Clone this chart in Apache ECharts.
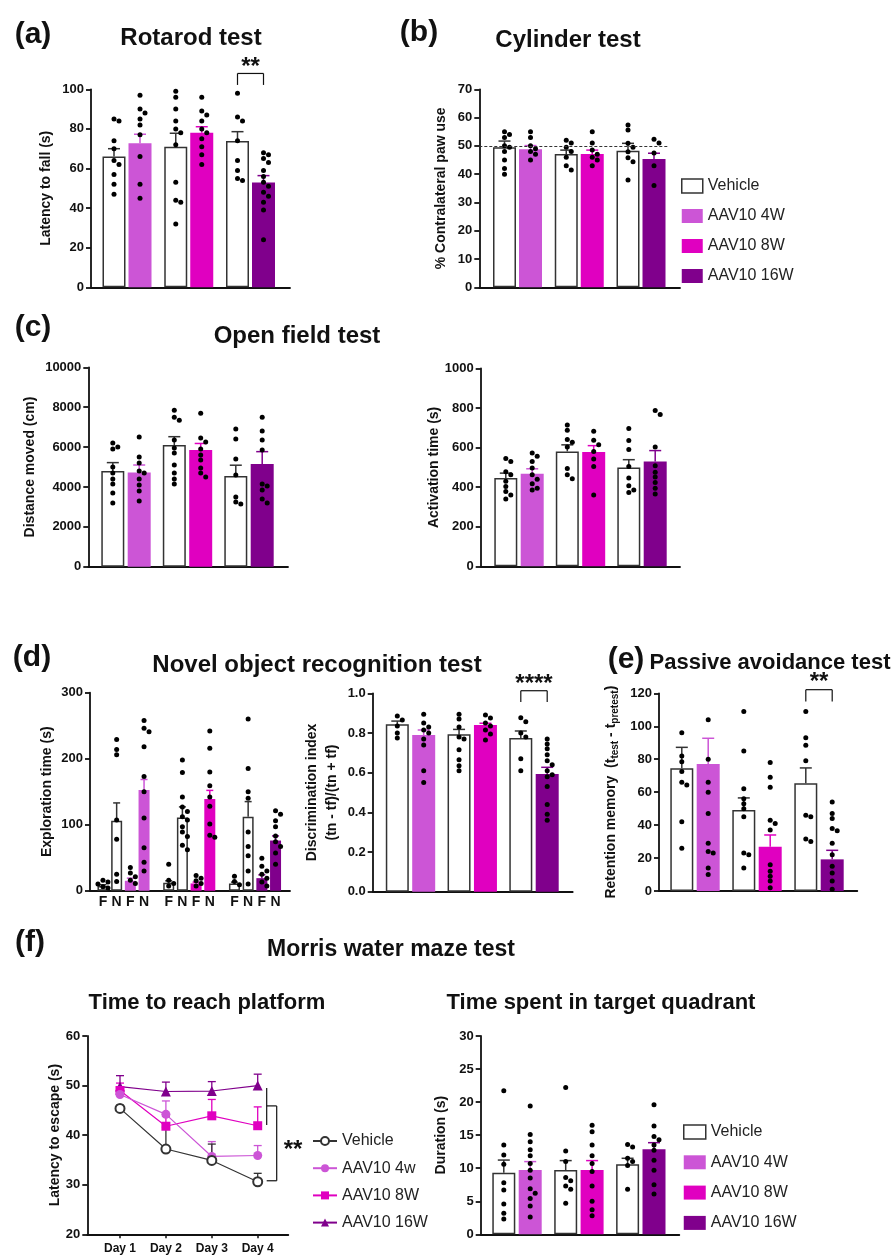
<!DOCTYPE html>
<html><head><meta charset="utf-8">
<script src="https://cdn.jsdelivr.net/npm/echarts/dist/echarts.min.js"></script>
<style>html,body{margin:0;padding:0;background:#fff}#c{width:892px;height:1259px}</style>
</head><body><div id="c"></div>
<script>
// ================= DATA =================
const barGroupNames = ['Vehicle','AAV10 4W','Vehicle','AAV10 8W','Vehicle','AAV10 16W'];
const legendNames = ['Vehicle','AAV10 4W','AAV10 8W','AAV10 16W'];

// (a) Rotarod test - latency to fall (s)
const rotarodMean = [66, 72.7, 71, 78.1, 73.9, 52.9];
const rotarodSem  = [4, 4.6, 6.8, 3, 4.7, 3.5];
const rotarodDots = [
  [85, 84, 74, 70, 64, 62, 57, 52, 47],
  [97, 90, 88, 85, 82, 77, 66, 52, 45],
  [99, 96, 90, 84, 80, 78, 72, 53, 44, 43, 32],
  [96, 89, 87, 84, 80, 78, 75, 71, 67, 62],
  [98, 86, 84, 74, 64, 59, 55, 54],
  [68, 67, 65, 63, 59, 56, 53, 51, 48, 46, 43, 39, 24]
];

// (b) Cylinder test - % contralateral paw use
const cylinderMean = [49.5, 48.8, 47.1, 47.1, 48.3, 45.4];
const cylinderSem  = [2.2, 1.3, 1.4, 1.4, 2.6, 2.0];
const cylinderDots = [
  [55, 54, 53, 50, 49.5, 48, 45, 42, 40],
  [55, 53, 50, 49, 48, 47, 45],
  [52, 51, 49.5, 48, 46, 43, 41.5],
  [55, 51, 48.5, 47, 46, 45, 43],
  [57.4, 55.6, 50.9, 49.5, 47.9, 45.8, 44.4, 37.9],
  [52.3, 51, 47.5, 43, 36]
];
const cylinderRef = 50;

// (c) Open field test - distance moved (cm)
const distanceMean = [4800, 4730, 6100, 5850, 4550, 5150];
const distanceSem  = [420, 370, 420, 330, 540, 620];
const distanceDots = [
  [6200, 6000, 5900, 5000, 4700, 4400, 4150, 3700, 3200],
  [6500, 5500, 5200, 4800, 4700, 4400, 4100, 3800, 3300],
  [7850, 7500, 7350, 6350, 5950, 5700, 5100, 4700, 4400, 4150],
  [7700, 6450, 6250, 5900, 5600, 5350, 4950, 4700, 4500],
  [6900, 6400, 5400, 4600, 3500, 3250, 3150],
  [7500, 6800, 6350, 5850, 4150, 4050, 3850, 3400, 3200]
];
// (c) Open field test - activation time (s)
const activationMean = [446, 468, 581, 578, 500, 530];
const activationSem  = [25, 25, 33, 32, 39, 55];
const activationDots = [
  [545, 530, 478, 463, 430, 403, 378, 360, 340],
  [573, 556, 530, 497, 463, 440, 417, 395, 386],
  [714, 688, 641, 627, 603, 495, 463, 442],
  [683, 637, 615, 581, 542, 505, 361],
  [697, 636, 590, 505, 446, 407, 386, 373],
  [788, 768, 603, 508, 476, 451, 424, 395, 366]
];

// (d) Novel object recognition - exploration time (s), F = familiar, N = novel
const exploreGroupNames = ['Vehicle','Vehicle','AAV10 4W','AAV10 4W','Vehicle','Vehicle','AAV10 8W','AAV10 8W','Vehicle','Vehicle','AAV10 16W','AAV10 16W'];
const exploreLabels = ['F','N','F','N','F','N','F','N','F','N','F','N'];
const exploreMean = [7, 106, 15, 152.5, 12, 111, 11, 139, 11, 112, 19, 76];
const exploreSem  = [2, 27, 4, 16, 3, 16, 2, 13, 2, 23, 5, 7];
const exploreDots = [
  [16, 13, 10, 6, 4],
  [229, 214, 206, 107, 78, 25, 14],
  [35, 27, 21, 16, 11],
  [258, 246, 241, 218, 173, 150, 110, 65, 43, 30],
  [40, 16, 11, 7],
  [198, 179, 142, 127, 120, 112, 107, 97, 89, 82, 69, 62],
  [23, 19, 15, 11, 7],
  [242, 216, 180, 159, 142, 128, 101, 84, 81],
  [22, 14, 9],
  [260, 185, 150, 140, 89, 67, 53, 30, 10],
  [49, 37, 30, 25, 19, 13, 7],
  [121, 116, 106, 97, 83, 74, 67, 57, 40]
];
// (d) Discrimination index
const discrimMean = [0.844, 0.79, 0.793, 0.84, 0.775, 0.593];
const discrimSem  = [0.016, 0.025, 0.025, 0.009, 0.035, 0.034];
const discrimDots = [
  [0.886, 0.866, 0.835, 0.80, 0.775],
  [0.895, 0.85, 0.83, 0.815, 0.80, 0.77, 0.74, 0.61, 0.55],
  [0.895, 0.87, 0.83, 0.78, 0.77, 0.715, 0.665, 0.635, 0.61],
  [0.89, 0.875, 0.85, 0.835, 0.815, 0.795, 0.765],
  [0.877, 0.857, 0.80, 0.78, 0.67, 0.61],
  [0.77, 0.745, 0.72, 0.69, 0.66, 0.64, 0.61, 0.59, 0.58, 0.53, 0.44, 0.39, 0.36]
];

// (e) Passive avoidance - retention memory
const passiveMean = [74.5, 77.1, 49.2, 26.9, 65.4, 19.2];
const passiveSem  = [12.7, 15.6, 7.3, 7.1, 9.3, 5.5];
const passiveDots = [
  [96, 82, 78.5, 72.5, 66, 64.4, 42, 26],
  [104, 80, 66, 60, 47, 29, 24, 23, 14, 10],
  [109, 85, 62, 56, 53, 50, 45, 23, 22, 14],
  [78, 69, 63, 43, 41, 37, 16, 12, 9, 6, 2],
  [109, 93, 88.5, 79, 46, 45, 31.6, 30],
  [54, 47, 44, 38, 36.5, 29, 22, 15, 11, 6, 1]
];

// (f) Morris water maze - latency to escape (s)
const days = [1, 2, 3, 4];
const dayLabels = ['Day 1', 'Day 2', 'Day 3', 'Day 4'];
const mwmNames = ['Vehicle', 'AAV10 4w', 'AAV10 8W', 'AAV10 16W'];
const latVehicle = [45.4, 37.2, 34.9, 30.6];
const latVehicleSem = [0.6, 4.4, 3.3, 1.7];
const lat4w = [48.2, 44.2, 35.7, 35.9];
const lat4wSem = [1.5, 2.7, 3.0, 2.0];
const lat8w = [49.0, 41.8, 43.9, 41.9];
const lat8wSem = [1.5, 2.0, 3.3, 3.8];
const lat16w = [49.8, 48.8, 48.9, 50.0];
const lat16wSem = [2.2, 1.9, 1.9, 2.3];
// (f) Time spent in target quadrant (s)
const durationMean = [9.33, 9.73, 9.73, 9.73, 10.6, 12.86];
const durationSem  = [1.9, 1.27, 1.42, 1.42, 0.9, 1.0];
const durationDots = [
  [21.7, 13.5, 12, 10.6, 7.8, 6.7, 4.6, 3.2, 2.3],
  [19.4, 15.1, 14, 12.8, 11.9, 10.7, 9.7, 8.5, 6.9, 6.2, 5.4, 4.3, 2.6],
  [22.2, 12.6, 11, 8.6, 8.1, 7.3, 6.8, 4.7],
  [16.5, 15.5, 13.5, 11.9, 10.7, 9.5, 7.3, 5, 3.7, 2.8],
  [13.6, 13.2, 11.5, 11, 10.4, 6.8],
  [19.6, 16.4, 14.8, 14.3, 13.5, 12.7, 11.2, 9.7, 7.5, 6.1]
];

// ================= STYLE / LAYOUT =================
const FONT = '"Liberation Sans", Arial, Helvetica, sans-serif';
const INK = '#111111';
const COLORS = {'Vehicle':'#ffffff','AAV10 4W':'#CC55D6','AAV10 8W':'#E000C0','AAV10 16W':'#80008C'};
const ERRC = {'Vehicle':'#333333','AAV10 4W':'#CC55D6','AAV10 8W':'#E000C0','AAV10 16W':'#80008C'};

const grids = [], xAxes = [], yAxes = [], series = [], graphics = [];

function yAxisCfg(gi, o) {
  return {gridIndex: gi, type: 'value', min: o.yMin, max: o.yMax, interval: o.yInt,
    axisLine: {show: true, onZero: false, lineStyle: {color: INK, width: 1.8}},
    axisTick: {show: true, length: 5, lineStyle: {color: INK, width: 1.8}},
    axisLabel: {show: true, color: INK, fontFamily: FONT, fontWeight: 'bold', fontSize: 13, margin: 7,
      formatter: o.yFmt || (v => String(v))},
    splitLine: {show: false},
    name: o.yName, nameLocation: 'middle', nameGap: o.nameGap, nameRotate: 90,
    nameTextStyle: Object.assign({fontFamily: FONT, fontSize: 14, fontWeight: 'bold', color: INK}, o.nameStyle || {})};
}

function swarm(vals, xc, pyPU, pxPU, d) {
  const placed = [];
  return vals.map(v => {
    const py = v * pyPU;
    const cands = [0, 1, -1, 2, -2, 3, -3];
    let px = 0;
    for (const k of cands) {
      const cx = k * d;
      if (placed.every(p => (p[0]-cx)*(p[0]-cx) + (p[1]-py)*(p[1]-py) >= d*d*0.9)) { px = cx; break; }
    }
    placed.push([px, py]);
    return [xc + px / pxPU, v];
  });
}

function errorSeries(gi, xs, means, sems, colors, capW, lw) {
  series.push({type: 'custom', xAxisIndex: gi, yAxisIndex: gi, z: 3, silent: true, clip: false,
    data: xs.map((x, i) => ({value: [x, means[i], means[i] + sems[i]], itemStyle: {color: colors[i]}})),
    renderItem(params, api) {
      const b = api.coord([api.value(0), api.value(1)]);
      const t = api.coord([api.value(0), api.value(2)]);
      const c = api.visual('color');
      return {type: 'group', children: [
        {type: 'line', shape: {x1: b[0], y1: b[1], x2: t[0], y2: t[1]}, style: {stroke: c, lineWidth: lw}},
        {type: 'line', shape: {x1: t[0]-capW/2, y1: t[1], x2: t[0]+capW/2, y2: t[1]}, style: {stroke: c, lineWidth: lw}}
      ]};
    }});
}

function segSeries(gi, segs, style) {
  series.push({type: 'custom', xAxisIndex: gi, yAxisIndex: gi, z: 6, silent: true, clip: false,
    data: segs,
    renderItem(params, api) {
      const a = api.coord([api.value(0), api.value(1)]);
      const b = api.coord([api.value(2), api.value(3)]);
      return {type: 'line', shape: {x1: a[0], y1: a[1], x2: b[0], y2: b[1]}, style: Object.assign({stroke: INK, lineWidth: 1.2}, style || {})};
    }});
}

function starText(gi, x, y, txt, fs) {
  series.push({type: 'custom', xAxisIndex: gi, yAxisIndex: gi, z: 6, silent: true, clip: false,
    data: [[x, y]],
    renderItem(params, api) {
      const p = api.coord([api.value(0), api.value(1)]);
      return {type: 'text', x: p[0], y: p[1] + fs * 0.25, style: {text: txt, fontFamily: FONT, fontWeight: 'bold', fontSize: fs, fill: INK, align: 'center', verticalAlign: 'middle'}};
    }});
}

// generic bar + dots panel
function barPanel(geo, o, names, means, sems, dots, xpos) {
  const gi = grids.length;
  const xMin = (geo.x0 - geo.c0) / geo.step, xMax = (geo.x1 - geo.c0) / geo.step;
  grids.push({left: geo.x0, top: geo.yTop, width: geo.x1 - geo.x0, height: geo.yBot - geo.yTop, outerBoundsMode: 'none'});
  xAxes.push(Object.assign({gridIndex: gi, type: 'value', min: xMin, max: xMax,
    axisLine: {show: true, onZero: false, lineStyle: {color: INK, width: 1.8}},
    axisTick: {show: false}, axisLabel: {show: false}, splitLine: {show: false}}, o.xExtra ? o.xExtra(names.map((n, i) => xpos(i))) : {}));
  yAxes.push(yAxisCfg(gi, o));
  const xs = names.map((n, i) => xpos(i));
  [...new Set(names)].forEach(n => {
    const isVeh = n === 'Vehicle';
    const s = {type: 'bar', name: n, xAxisIndex: gi, yAxisIndex: gi, barWidth: geo.bw, barGap: '-100%', z: 2, silent: true,
      data: names.map((nm, i) => nm === n ? [xs[i], means[i]] : null).filter(Boolean),
      itemStyle: isVeh ? {color: '#ffffff', borderColor: '#333333', borderWidth: 1.5} : {color: COLORS[n], borderWidth: 0}};
    if (isVeh && o.refLine !== undefined) {
      s.markLine = {symbol: 'none', silent: true, label: {show: false}, lineStyle: {type: [3, 2], color: '#333', width: 1},
        data: [[{coord: [xMin, o.refLine]}, {coord: [(o.refEnd - geo.c0) / geo.step, o.refLine]}]]};
    }
    series.push(s);
  });
  errorSeries(gi, xs, means, sems, names.map(n => ERRC[n]), geo.cap, 1.5);
  const pyPU = (geo.yBot - geo.yTop) / (o.yMax - o.yMin);
  const pts = [];
  dots.forEach((arr, i) => swarm(arr, xs[i], pyPU, geo.step, 5).forEach(p => pts.push(p)));
  series.push({type: 'scatter', xAxisIndex: gi, yAxisIndex: gi, z: 4, silent: true, symbolSize: 5,
    itemStyle: {color: '#000000', opacity: 1}, data: pts});
  return gi;
}
const pairX = geo => i => Math.floor(i / 2) + (i % 2 ? geo.off : -geo.off) / geo.step;

// ---- geometry (pixels) ----
const geoA  = {x0: 91, x1: 290, yTop: 89.3, yBot: 287.3, c0: 127, step: 61.75, off: 13, bw: 23, cap: 12};
const geoB  = {x0: 479.3, x1: 680, yTop: 89.3, yBot: 287.3, c0: 517.5, step: 61.75, off: 13, bw: 23, cap: 12};
const geoC1 = {x0: 88.3, x1: 288, yTop: 367.3, yBot: 566.7, c0: 126, step: 61.5, off: 13.2, bw: 23, cap: 12};
const geoC2 = {x0: 480.7, x1: 680, yTop: 368.5, yBot: 566.3, c0: 519, step: 61.5, off: 13.2, bw: 23, cap: 12};
const geoD1 = {x0: 90, x1: 290, yTop: 692.7, yBot: 890.7, c0: 123.5, step: 65.75, pitch: 13.7, bw: 11, cap: 7};
const geoD2 = {x0: 372.7, x1: 572.7, yTop: 693.3, yBot: 891.7, c0: 410.5, step: 61.75, off: 13.2, bw: 23, cap: 12};
const geoE  = {x0: 659, x1: 857.3, yTop: 693.3, yBot: 891, c0: 695, step: 62, off: 13.2, bw: 23, cap: 12};
const geoF1 = {x0: 87.3, x1: 288.3, yTop: 1036, yBot: 1234.3, d1: 120, step: 45.9};
const geoF2 = {x0: 480.7, x1: 679.3, yTop: 1036, yBot: 1234.3, c0: 517, step: 61.9, off: 13.2, bw: 23, cap: 12};

// (a)
const gA = barPanel(geoA, {yMin: 0, yMax: 100, yInt: 20, yName: 'Latency to fall (s)', nameGap: 38},
  barGroupNames, rotarodMean, rotarodSem, rotarodDots, pairX(geoA));
segSeries(gA, [[2 - geoA.off/geoA.step, 102.2, 2 - geoA.off/geoA.step, 108], [2 - geoA.off/geoA.step, 108, 2 + geoA.off/geoA.step, 108], [2 + geoA.off/geoA.step, 108, 2 + geoA.off/geoA.step, 102.2]]);
starText(gA, 2, 114.3, '**', 24);

// (b)
barPanel(geoB, {yMin: 0, yMax: 70, yInt: 10, yName: '% Contralateral paw use', nameGap: 31, refLine: cylinderRef, refEnd: 668},
  barGroupNames, cylinderMean, cylinderSem, cylinderDots, pairX(geoB));

// (c)
barPanel(geoC1, {yMin: 0, yMax: 10000, yInt: 2000, yName: 'Distance moved (cm)', nameGap: 51},
  barGroupNames, distanceMean, distanceSem, distanceDots, pairX(geoC1));
barPanel(geoC2, {yMin: 0, yMax: 1000, yInt: 200, yName: 'Activation time (s)', nameGap: 39},
  barGroupNames, activationMean, activationSem, activationDots, pairX(geoC2));

// (d) exploration
const xD1 = i => Math.floor(i / 4) + ((i % 4) - 1.5) * geoD1.pitch / geoD1.step;
barPanel(geoD1, {yMin: 0, yMax: 300, yInt: 100, yName: 'Exploration time (s)', nameGap: 36,
  xExtra: xs => ({axisLabel: {show: true, customValues: xs, color: INK, fontFamily: FONT, fontWeight: 'bold', fontSize: 14, margin: 4,
    formatter: v => { let bi = 0; xs.forEach((x, i) => { if (Math.abs(x - v) < Math.abs(xs[bi] - v)) bi = i; }); return exploreLabels[bi]; }}})},
  exploreGroupNames, exploreMean, exploreSem, exploreDots, xD1);

// (d) discrimination
const gD2 = barPanel(geoD2, {yMin: 0, yMax: 1, yInt: 0.2, yName: 'Discrimination index\n(tn - tf)/(tn + tf)', nameGap: 31,
  yFmt: v => v.toFixed(1), nameStyle: {lineHeight: 20}},
  barGroupNames, discrimMean, discrimSem, discrimDots, pairX(geoD2));
segSeries(gD2, [[2 - geoD2.off/geoD2.step, 0.956, 2 - geoD2.off/geoD2.step, 1.013], [2 - geoD2.off/geoD2.step, 1.013, 2 + geoD2.off/geoD2.step, 1.013], [2 + geoD2.off/geoD2.step, 1.013, 2 + geoD2.off/geoD2.step, 0.956]]);
starText(gD2, 2, 1.077, '****', 24);

// (e)
const gE = barPanel(geoE, {yMin: 0, yMax: 120, yInt: 20, nameGap: 39,
  yName: '{b|Retention memory  (t}{s|test}{b| - t}{s|pretest}{b|)}',
  nameStyle: {rich: {
    b: {fontFamily: FONT, fontSize: 14, fontWeight: 'bold', color: INK, lineHeight: 18, verticalAlign: 'middle'},
    s: {fontFamily: FONT, fontSize: 10, fontWeight: 'bold', color: INK, lineHeight: 10, verticalAlign: 'bottom'}}}},
  barGroupNames, passiveMean, passiveSem, passiveDots, pairX(geoE));
segSeries(gE, [[2 - geoE.off/geoE.step, 115, 2 - geoE.off/geoE.step, 122.2], [2 - geoE.off/geoE.step, 122.2, 2 + geoE.off/geoE.step, 122.2], [2 + geoE.off/geoE.step, 122.2, 2 + geoE.off/geoE.step, 115]]);
starText(gE, 2, 130, '**', 24);

// (f) latency line chart
(function () {
  const gi = grids.length;
  grids.push({left: geoF1.x0, top: geoF1.yTop, width: geoF1.x1 - geoF1.x0, height: geoF1.yBot - geoF1.yTop, outerBoundsMode: 'none'});
  xAxes.push({gridIndex: gi, type: 'value', min: 1 - (geoF1.d1 - geoF1.x0) / geoF1.step, max: 1 + (geoF1.x1 - geoF1.d1) / geoF1.step,
    axisLine: {show: true, onZero: false, lineStyle: {color: INK, width: 1.8}},
    axisTick: {show: true, customValues: days, length: 4, lineStyle: {color: INK, width: 1.5}},
    axisLabel: {show: true, customValues: days, color: INK, fontFamily: FONT, fontWeight: 'bold', fontSize: 12, margin: 8,
      formatter: v => dayLabels[days.indexOf(Math.round(v))]},
    splitLine: {show: false}});
  yAxes.push(yAxisCfg(gi, {yMin: 20, yMax: 60, yInt: 10, yName: 'Latency to escape (s)', nameGap: 25}));
  const groups = [
    {name: mwmNames[0], v: latVehicle, e: latVehicleSem, c: '#333333', sym: 'emptyCircle', size: 9},
    {name: mwmNames[1], v: lat4w, e: lat4wSem, c: COLORS['AAV10 4W'], sym: 'circle', size: 9},
    {name: mwmNames[2], v: lat8w, e: lat8wSem, c: COLORS['AAV10 8W'], sym: 'rect', size: 9},
    {name: mwmNames[3], v: lat16w, e: lat16wSem, c: COLORS['AAV10 16W'], sym: 'triangle', size: 10}
  ];
  groups.slice().reverse().forEach(g => {
    errorSeries(gi, days, g.v, g.e, days.map(() => g.c), 8, 1.3);
  });
  groups.slice().reverse().forEach((g, k) => {
    series.push({type: 'line', name: 'MWM:' + g.name, xAxisIndex: gi, yAxisIndex: gi, z: 5 + k * 0.1, silent: true,
      data: days.map((d, i) => [d, g.v[i]]), symbol: g.sym, symbolSize: g.size, showAllSymbol: true,
      lineStyle: {color: g.c, width: 1.2},
      itemStyle: g.sym === 'emptyCircle' ? {color: g.c, borderColor: g.c, borderWidth: 1.3} : {color: g.c, borderWidth: 0}});
  });
  segSeries(gi, [[4.196, 49.5, 4.196, 42.05], [4.196, 45.9, 4.414, 45.9], [4.414, 45.9, 4.414, 30.8], [4.414, 30.8, 4.196, 30.8]]);
  starText(gi, 4.77, 38.2, '**', 24);
})();

// (f) time in target quadrant
barPanel(geoF2, {yMin: 0, yMax: 30, yInt: 5, yName: 'Duration (s)', nameGap: 33},
  barGroupNames, durationMean, durationSem, durationDots, pairX(geoF2));

// ---- titles ----
function txt(x, y, t, fs) {
  graphics.push({type: 'text', x: x, y: y, silent: true, style: {text: t, fontFamily: FONT, fontWeight: 'bold', fontSize: fs, fill: INK, align: 'center', verticalAlign: 'middle'}});
}
txt(33, 35, '(a)', 30); txt(191, 38, 'Rotarod test', 24);
txt(419, 33, '(b)', 30); txt(568, 40, 'Cylinder test', 24);
txt(33, 328, '(c)', 30); txt(297, 336, 'Open field test', 24);
txt(32, 658, '(d)', 30); txt(317, 665, 'Novel object recognition test', 24);
txt(626, 660, '(e)', 30); txt(770, 663, 'Passive avoidance test', 22);
txt(30, 943, '(f)', 30); txt(391, 950, 'Morris water maze test', 23);
txt(207, 1003, 'Time to reach platform', 22); txt(601, 1003, 'Time spent in target quadrant', 22);

// ---- legends ----
const barLegendData = legendNames.map(n => n === 'Vehicle'
  ? {name: n, itemStyle: {color: '#ffffff', borderColor: '#333333', borderWidth: 1.5}}
  : {name: n, itemStyle: {color: COLORS[n], borderWidth: 0}});
const legTxt = {fontFamily: FONT, fontSize: 16, color: '#222', lineHeight: 20};
const legends = [
  {data: barLegendData, orient: 'vertical', left: 681, top: 176, itemWidth: 21, itemHeight: 14, itemGap: 10, icon: 'rect', selectedMode: false, textStyle: legTxt, padding: 0},
  {data: barLegendData, orient: 'vertical', left: 683, top: 1122, itemWidth: 22, itemHeight: 14, itemGap: 10.3, icon: 'rect', selectedMode: false, textStyle: legTxt, padding: 0},
  {data: mwmNames.map(n => 'MWM:' + n), orient: 'vertical', left: 312, top: 1132, itemWidth: 24, itemHeight: 10, itemGap: 9.2, selectedMode: false,
    formatter: n => n.slice(4), textStyle: Object.assign({}, legTxt, {lineHeight: 18}), padding: 0}
];

const chart = echarts.init(document.getElementById('c'), null, {renderer: 'canvas'});
chart.setOption({animation: false, backgroundColor: '#ffffff', textStyle: {fontFamily: FONT},
  grid: grids, xAxis: xAxes, yAxis: yAxes, series: series, legend: legends, graphic: graphics});
</script></body></html>
